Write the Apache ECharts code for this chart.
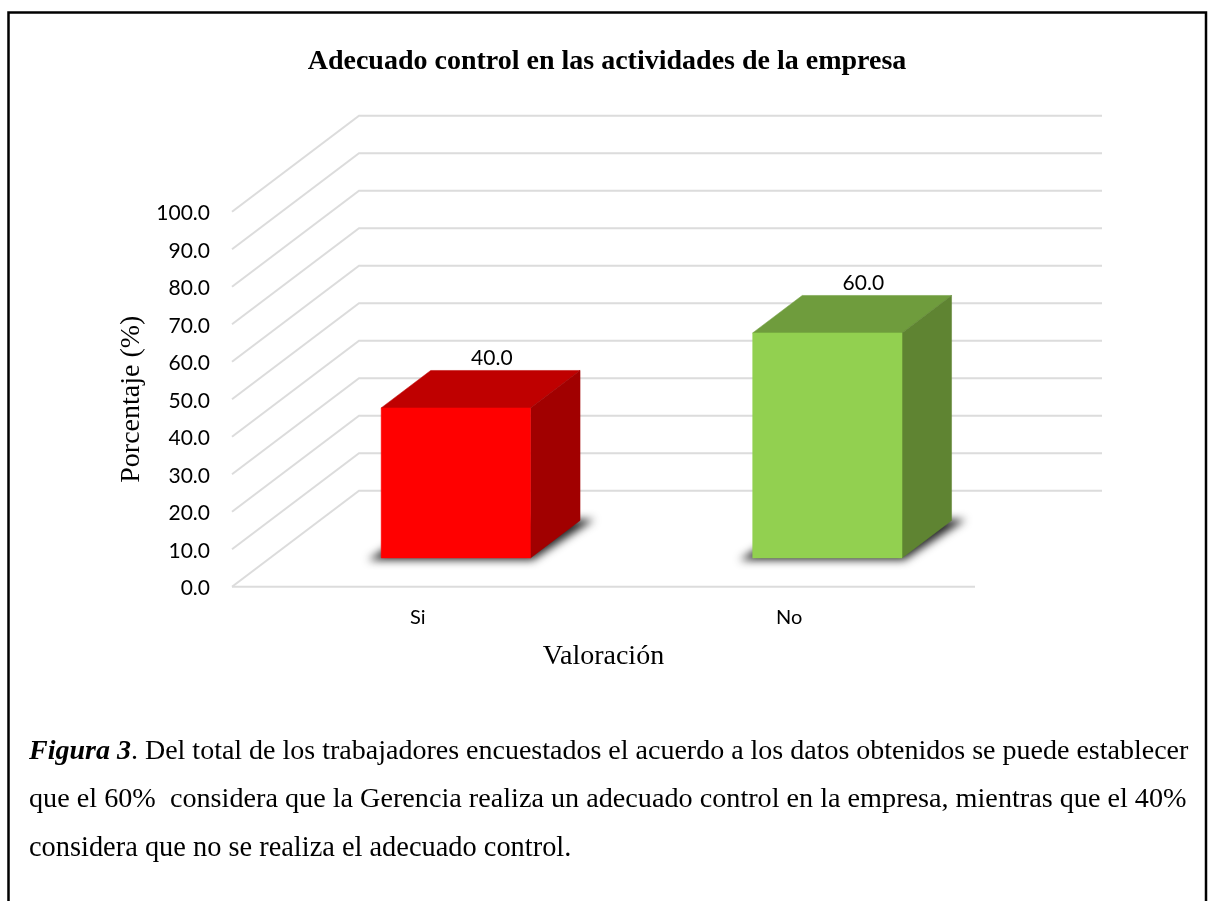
<!DOCTYPE html>
<html><head><meta charset="utf-8">
<style>html,body{margin:0;padding:0;background:#fff}#c{width:1208px;height:901px}</style>
<script src="https://cdn.jsdelivr.net/npm/echarts@6/dist/echarts.min.js"></script>
</head><body><div id="c"></div>
<script>
const titleText = 'Adecuado control en las actividades de la empresa';
const categories = ['Si', 'No'];
const values = [40.0, 60.0];
const gridTicks = [0, 10, 20, 30, 40, 50, 60, 70, 80, 90, 100];
const frontColors = ['#ff0000', '#92d050'];
const topColors = ['#bf0000', '#6f9c3d'];
const sideColors = ['#a10000', '#5f8432'];
const yName = 'Porcentaje (%)';
const xName = 'Valoración';
const captionLead = 'Figura 3';
const captionLines = [
  '. Del total de los trabajadores encuestados el acuerdo a los datos obtenidos se puede establecer',
  'que el 60%  considera que la Gerencia realiza un adecuado control en la empresa, mientras que el 40%',
  'considera que no se realiza el adecuado control.'
];

const DX = 127, DY = -96;
const F0 = 0.30, F1 = 0.69;
const BAND = 0.402;
const SERIF = '"Liberation Serif"';
const OFF = 3000;
const chart = echarts.init(document.getElementById('c'));
const poly = (pts, fill) => ({type:'polygon', shape:{points:pts}, style:{fill:fill, stroke:fill, lineWidth:0.5}});

function renderGrid(params, api) {
  const cs = params.coordSys;
  const y = api.coord([0, api.value(1)])[1];
  const x0 = cs.x, x1 = cs.x + cs.width;
  const st = {stroke:'#dcdcdc', lineWidth:2, fill:null};
  const pts = [[x0, y], [x0 + DX, y + DY], [x1 + DX, y + DY]];
  const kids = [{type:'polyline', shape:{points:pts}, style:st}];
  if (api.value(1) === 0) kids.push({type:'line', shape:{x1:x0, y1:y, x2:x1, y2:y}, style:st});
  return {type:'group', children:kids};
}
function renderBar(params, api) {
  const i = params.dataIndex;
  const v = api.value(1);
  const c = api.coord([i, v]), c0 = api.coord([i, 0]);
  const bw = api.size([1, 0])[0] * BAND;
  const xl = c[0] - bw / 2 + DX * F0, xr = xl + bw;
  const yt = c[1] + DY * F0, yb = c0[1] + DY * F0;
  const ddx = DX * (F1 - F0), ddy = DY * (F1 - F0);
  const shadowPts = [[xl - 13, yb + 2], [xr + 2, yb + 2], [xr + ddx + 14, yb + ddy - 1], [xl + ddx, yb + ddy - 1]]
    .map(p => [p[0] - OFF, p[1]]);
  return {type:'group', children:[
    {type:'polygon', shape:{points:shadowPts}, style:{fill:'#000', shadowBlur:9, shadowOffsetX:OFF, shadowColor:'rgba(0,0,0,0.85)'}},
    poly([[xl, yt], [xl + ddx, yt + ddy], [xr + ddx, yt + ddy], [xr, yt]], topColors[i]),
    poly([[xr, yt], [xr + ddx, yt + ddy], [xr + ddx, yb + ddy], [xr, yb]], sideColors[i]),
    poly([[xl, yt], [xr, yt], [xr, yb], [xl, yb]], frontColors[i]),
    {type:'text', style:{x:(xl + xr) / 2 + 36, y:yt + ddy - 12.5, text:v.toFixed(1), fill:'#000',
      font:'21px Lato', align:'center', verticalAlign:'middle'}}
  ]};
}

const capFont = '28px ' + SERIF;
chart.setOption({
  animation:false,
  backgroundColor:'#ffffff',
  title:{text:titleText, left:602, top:43, textAlign:'center',
    textStyle:{fontFamily:SERIF, fontWeight:'bold', fontSize:28, color:'#000'}},
  grid:{left:232, top:211.7, width:743, height:375},
  xAxis:{type:'category', data:categories, axisLine:{show:false}, axisTick:{show:false},
    axisLabel:{fontFamily:'Lato', fontSize:20, color:'#000', margin:21},
    name:xName, nameLocation:'middle', nameGap:56,
    nameTextStyle:{fontFamily:SERIF, fontSize:28, color:'#000'}},
  yAxis:{type:'value', min:0, max:100, interval:10, axisLine:{show:false}, axisTick:{show:false}, splitLine:{show:false},
    axisLabel:{color:'#000', margin:22, formatter:v => '{a|' + v.toFixed(1) + '}',
      rich:{a:{fontFamily:'Lato', fontSize:21, color:'#000', padding:[4, 0, 0, 0]}}},
    name:yName, nameLocation:'middle', nameGap:84,
    nameTextStyle:{fontFamily:SERIF, fontSize:28, color:'#000'}},
  series:[
    {type:'custom', renderItem:renderGrid, clip:false, silent:true, z:1, data:gridTicks.map(t => [0, t])},
    {type:'custom', renderItem:renderBar, clip:false, silent:true, z:2, data:values.map((v, i) => [i, v])}
  ],
  graphic:[
    {type:'polyline', z:10, shape:{points:[[8.5, 901], [8.5, 12.5], [1206, 12.5], [1206, 901]]}, style:{stroke:'#000', lineWidth:2.5, fill:null}},
    {type:'text', z:10, left:29, top:738, style:{
      rich:{b:{font:'italic bold 28px '+SERIF, fill:'#000'}, r:{font:capFont, fill:'#000'}},
      text:'{b|'+captionLead+'}{r|'+captionLines[0]+'}'}},
    {type:'text', z:10, left:29, top:786, style:{text:captionLines[1], font:'28.2px '+SERIF, fill:'#000'}},
    {type:'text', z:10, left:29, top:835, style:{text:captionLines[2], font:'28.4px '+SERIF, fill:'#000'}}
  ]
});
</script></body></html>
